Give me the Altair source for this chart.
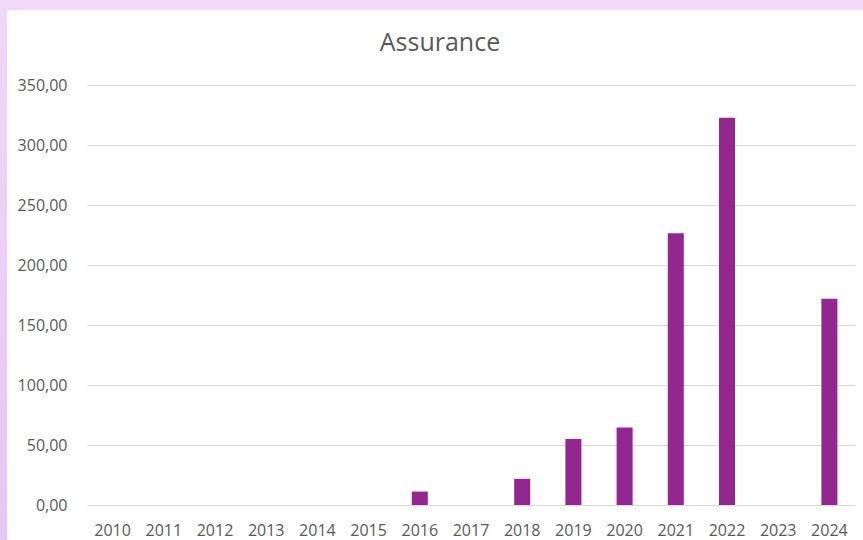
import altair as alt
import pandas as pd

years = ["2010", "2011", "2012", "2013", "2014", "2015", "2016", "2017",
         "2018", "2019", "2020", "2021", "2022", "2023", "2024"]
values = [0, 0, 0, 0, 0, 0, 11.2, 0, 21.8, 54.9, 64.6, 226.5, 322.7, 0, 171.8]
y_ticks = [0, 50, 100, 150, 200, 250, 300, 350]

df = pd.DataFrame({"year": years, "value": values})
one = pd.DataFrame({"a": [0]})

FONT = "Open Sans"
GREY = "#595959"

left_strip = alt.Chart(one).mark_rect(
    color=alt.LinearGradient(
        gradient="linear", x1=0, y1=0, x2=0, y2=1,
        stops=[alt.GradientStop(color="#f0d8f8", offset=0),
               alt.GradientStop(color="#e6c6f6", offset=1)])
).encode(x=alt.value(-87), x2=alt.value(-80), y=alt.value(-85), y2=alt.value(455))

top_strip = alt.Chart(one).mark_rect(color="#f0d9f9").encode(
    x=alt.value(-87), x2=alt.value(776), y=alt.value(-85), y2=alt.value(-75))

bars = alt.Chart(df).mark_bar(color="#92278f", size=16).encode(
    x=alt.X("year:O", sort=years, title=None,
            scale=alt.Scale(paddingInner=0, paddingOuter=0),
            axis=alt.Axis(labelAngle=0, ticks=False, domain=False, grid=False,
                          labelPadding=17, labelFontSize=16, labelFont=FONT,
                          labelColor=GREY)),
    y=alt.Y("value:Q", title=None,
            scale=alt.Scale(domain=[0, 350], nice=False),
            axis=alt.Axis(values=y_ticks, ticks=False, domain=False,
                          grid=True, gridColor="#d9d9d9", gridWidth=1,
                          labelExpr="replace(format(datum.value, '.2f'), '.', ',')",
                          labelPadding=20, labelFontSize=16, labelFont=FONT,
                          labelColor=GREY)),
)

chart = alt.layer(left_strip, top_strip, bars).properties(
    width=768,
    height=420,
    title=alt.Title("Assurance", font=FONT, fontSize=25, fontWeight="normal",
                    color=GREY, frame="group", anchor="middle", dx=-31,
                    baseline="alphabetic", offset=-76),
    autosize=alt.AutoSizeParams(type="none"),
    padding={"left": 87, "top": 85, "right": 8, "bottom": 35},
    background="white",
).configure_view(stroke=None)

chart.save("out.html", embed_options={"renderer": "svg", "actions": False})
